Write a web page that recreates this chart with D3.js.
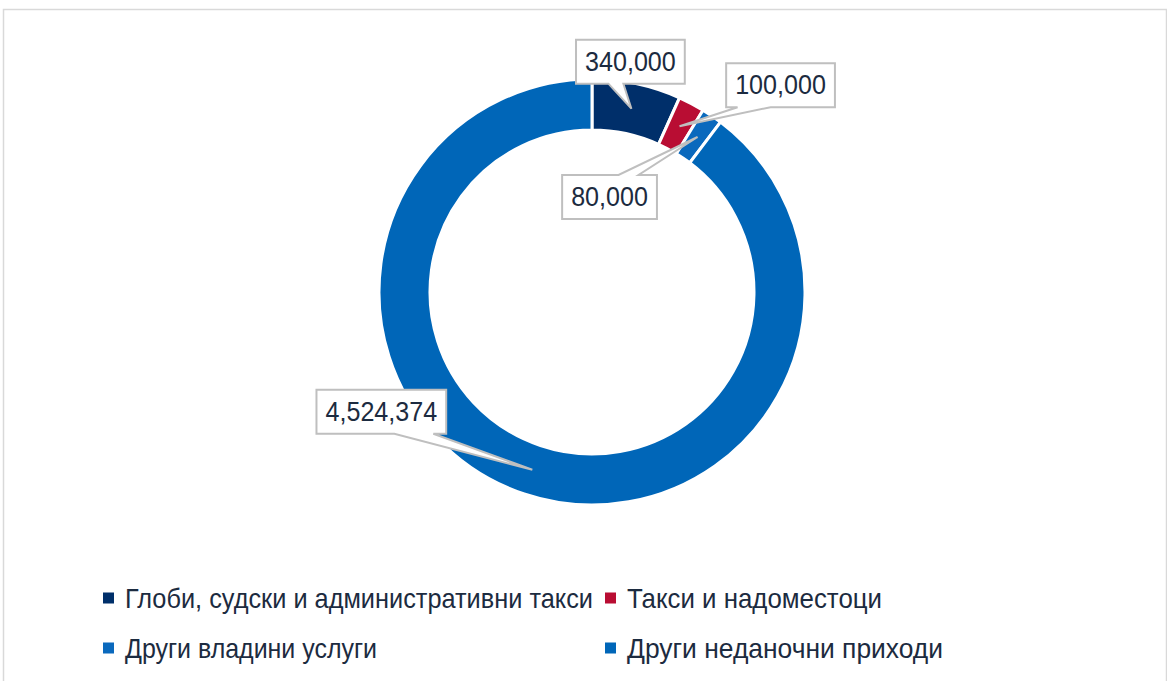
<!DOCTYPE html>
<html>
<head>
<meta charset="utf-8">
<script src="https://cdn.jsdelivr.net/npm/d3@7/dist/d3.min.js"></script>
<style>
  html, body { margin: 0; padding: 0; background: #ffffff; }
  svg { display: block; }
</style>
</head>
<body>
<svg id="chart" width="1167" height="681"></svg>
<script>
// ---- data ----
const categories = [
  "Глоби, судски и административни такси",
  "Такси и надоместоци",
  "Други владини услуги",
  "Други неданочни приходи"
];
const values = [340000, 100000, 80000, 4524374];
const colors = ["#002f6a", "#b90d33", "#0a69bd", "#0066b8"];

// label box placement relative to slice centroid (styling)
const labelOffsets = [
  { dx: -1,   dy: -47,  side: "bottom", b1: -22, b2: -7 },
  { dx: 101,  dy: -41,  side: "bottom", b1: -43, b2: -10 },
  { dx: -88,  dy: 60,   side: "top",    b1: 9,   b2: 29 },
  { dx: -151, dy: -58,  side: "bottom", b1: 13,  b2: 52 }
];
// measured legend text widths (styling)
const legendWidths = [468, 255, 252, 316];

const svg = d3.select("#chart");
const W = 1167, H = 681;

// frame
svg.append("rect")
  .attr("x", 3.5).attr("y", 9.5)
  .attr("width", W - 4).attr("height", H)
  .attr("fill", "#ffffff").attr("stroke", "#d9d9d9").attr("stroke-width", 1.5);

const cx = 592, cy = 292, rOuter = 213, rInner = 162;

const pie = d3.pie().sort(null).value(d => d)(values);
const arc = d3.arc().innerRadius(rInner).outerRadius(rOuter);

const g = svg.append("g").attr("transform", `translate(${cx},${cy})`);

g.selectAll("path.slice")
  .data(pie)
  .join("path")
  .attr("class", "slice")
  .attr("d", arc)
  .attr("fill", (d, i) => colors[i])
  .attr("stroke", "#ffffff")
  .attr("stroke-width", 3)
  .attr("stroke-linejoin", "miter");

// labels with callouts
const fmt = d3.format(",");
const labelFont = "'Liberation Sans', Arial, sans-serif";

pie.forEach((d, i) => {
  const [tx, ty] = arc.centroid(d);
  const o = labelOffsets[i];
  const bx = tx + o.dx, by = ty + o.dy;
  const lg = g.append("g");
  const txt = lg.append("text")
    .attr("x", bx).attr("y", by)
    .attr("text-anchor", "middle")
    .attr("dominant-baseline", "central")
    .attr("font-family", labelFont)
    .attr("font-size", 27)
    .attr("fill", "#1c2b40")
    .text(fmt(values[i]));
  const tw = txt.node().getComputedTextLength() * 0.93;
  txt.attr("textLength", tw).attr("lengthAdjust", "spacingAndGlyphs");
  const w = tw + 18, h = 44;
  const L = bx - w / 2, R = bx + w / 2, T = by - h / 2, B = by + h / 2;
  let p;
  if (o.side === "bottom") {
    p = `M${L},${T}H${R}V${B}H${bx + o.b2}L${tx},${ty}L${bx + o.b1},${B}H${L}Z`;
  } else {
    p = `M${L},${T}H${bx + o.b1}L${tx},${ty}L${bx + o.b2},${T}H${R}V${B}H${L}Z`;
  }
  lg.insert("path", "text")
    .attr("d", p)
    .attr("fill", "#ffffff")
    .attr("stroke", "#bfbfbf")
    .attr("stroke-width", 2)
    .attr("stroke-linejoin", "miter");
});

// legend
const legendFont = "'Liberation Sans', Arial, sans-serif";
const legendPos = [
  { x: 103, y: 598 }, { x: 605, y: 598 },
  { x: 103, y: 648 }, { x: 605, y: 648 }
];
categories.forEach((c, i) => {
  const p = legendPos[i];
  svg.append("rect")
    .attr("x", p.x).attr("y", p.y - 5.5)
    .attr("width", 11).attr("height", 11)
    .attr("fill", colors[i]);
  svg.append("text")
    .attr("x", p.x + 22).attr("y", p.y + 9.5)
    .attr("font-family", legendFont)
    .attr("font-size", 28)
    .attr("fill", "#1c2b40")
    .attr("textLength", legendWidths[i])
    .attr("lengthAdjust", "spacingAndGlyphs")
    .text(c);
});
</script>
</body>
</html>
